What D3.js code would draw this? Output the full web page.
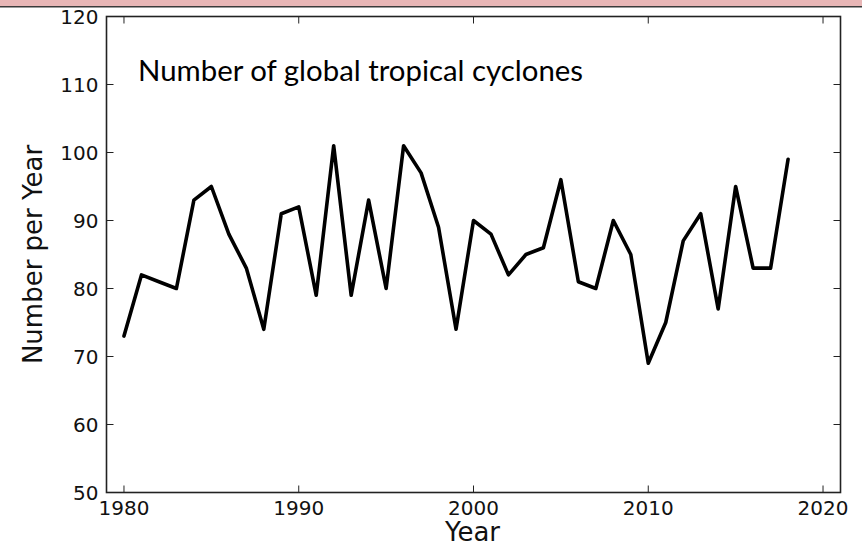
<!DOCTYPE html>
<html>
<head>
<meta charset="utf-8">
<script src="https://cdn.jsdelivr.net/npm/d3@7"></script>
<style>
  html, body { margin: 0; padding: 0; background: #fff; }
  svg { display: block; }
</style>
</head>
<body>
<svg id="chart" width="862" height="544"></svg>
<script>
const years = [1980,1981,1982,1983,1984,1985,1986,1987,1988,1989,1990,1991,1992,1993,1994,1995,1996,1997,1998,1999,2000,2001,2002,2003,2004,2005,2006,2007,2008,2009,2010,2011,2012,2013,2014,2015,2016,2017,2018];
const counts = [73,82,81,80,93,95,88,83,74,91,92,79,101,79,93,80,101,97,89,74,90,88,82,85,86,96,81,80,90,85,69,75,87,91,77,95,83,83,99];
const xTicks = [1980,1990,2000,2010,2020];
const yTicks = [50,60,70,80,90,100,110,120];
const title = "Number of global tropical cyclones";
const xLabel = "Year";
const yLabel = "Number per Year";

const svg = d3.select("#chart");
const L = 106.5, R = 840.5, T = 16.5, B = 492.5;

// top band
svg.append("rect").attr("x",0).attr("y",0).attr("width",862).attr("height",6).attr("fill","#e8b6b6");
svg.append("line").attr("x1",0).attr("x2",862).attr("y1",6.7).attr("y2",6.7).attr("stroke","#3a3a3a").attr("stroke-width",1.4);

const x = d3.scaleLinear().domain([1979,2021]).range([L,R]);
const y = d3.scaleLinear().domain([50,120]).range([B,T]);

const tickLen = 7;
const axisColor = "#222";
const font = "'DejaVu Sans', sans-serif";

// ticks inside on all four sides
const gt = svg.append("g").attr("stroke",axisColor).attr("stroke-width",1);
xTicks.forEach(t => {
  gt.append("line").attr("x1",x(t)).attr("x2",x(t)).attr("y1",B).attr("y2",B-tickLen);
  gt.append("line").attr("x1",x(t)).attr("x2",x(t)).attr("y1",T).attr("y2",T+tickLen);
});
yTicks.forEach(t => {
  gt.append("line").attr("x1",L).attr("x2",L+tickLen).attr("y1",y(t)).attr("y2",y(t));
  gt.append("line").attr("x1",R).attr("x2",R-tickLen).attr("y1",y(t)).attr("y2",y(t));
});

// data line
const line = d3.line().x((d,i)=>x(years[i])).y(d=>y(d));
svg.append("path").datum(counts).attr("d",line)
  .attr("fill","none").attr("stroke","#000").attr("stroke-width",3.6)
  .attr("stroke-linejoin","round").attr("stroke-linecap","round");

// frame
svg.append("rect").attr("x",L).attr("y",T).attr("width",R-L).attr("height",B-T)
  .attr("fill","none").attr("stroke",axisColor).attr("stroke-width",1.6);

// tick labels
svg.append("g").selectAll("text").data(xTicks).join("text")
  .attr("x",d=>x(d)).attr("y",514.5).attr("text-anchor","middle")
  .attr("font-family",font).attr("font-size",20).attr("fill","#111").text(d=>d);
svg.append("g").selectAll("text").data(yTicks).join("text")
  .attr("x",98.5).attr("y",d=>y(d)+7.3).attr("text-anchor","end")
  .attr("font-family",font).attr("font-size",20).attr("fill","#111").text(d=>d);

// axis labels
svg.append("text").attr("x",(L+R)/2 - 1).attr("y",540.5).attr("text-anchor","middle")
  .attr("font-family",font).attr("font-size",26).attr("fill","#111").text(xLabel);
svg.append("text").attr("transform",`translate(42,${(T+B)/2}) rotate(-90)`).attr("text-anchor","middle")
  .attr("font-family",font).attr("font-size",26).attr("fill","#111").text(yLabel);

// annotation
svg.append("text").attr("x",138).attr("y",80.7)
  .attr("font-family","Lato, 'Open Sans', sans-serif").attr("font-size",28).attr("fill","#000")
  .attr("textLength",445).attr("lengthAdjust","spacingAndGlyphs")
  .text(title);
</script>
</body>
</html>
